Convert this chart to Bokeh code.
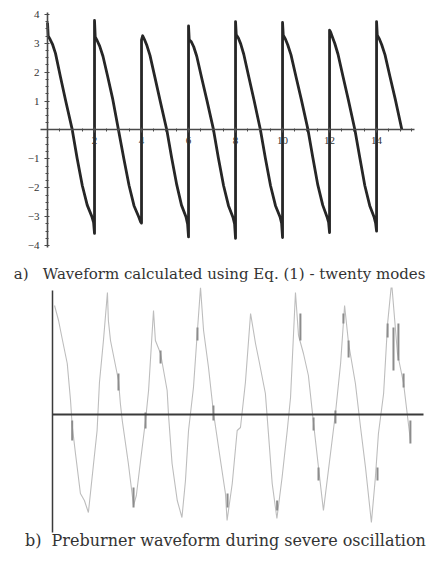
from bokeh.plotting import figure
from bokeh.models import Range1d, FixedTicker, Label
from bokeh.layouts import column
from bokeh.embed import file_html
from bokeh.resources import INLINE

# ---------------- data: a) waveform from Eq. (1), twenty modes ----------------
wave_x = [
    0.00, 0.03, 0.12, 0.22, 0.34, 0.55, 0.77, 1.05, 1.26, 1.48, 1.69, 1.88, 1.96, 2.00,
    2.00, 2.03, 2.12, 2.22, 2.36, 2.56, 2.78, 3.02, 3.25, 3.47, 3.68, 3.88, 3.96, 4.00,
    4.00, 4.05, 4.13, 4.23, 4.36, 4.57, 4.80, 5.08, 5.28, 5.50, 5.70, 5.89, 5.96, 6.00,
    6.00, 6.03, 6.12, 6.22, 6.35, 6.56, 6.79, 7.06, 7.27, 7.49, 7.70, 7.89, 7.96, 8.00,
    8.00, 8.03, 8.12, 8.22, 8.35, 8.56, 8.79, 9.06, 9.27, 9.49, 9.70, 9.89, 9.96, 10.00,
    10.00, 10.03, 10.12, 10.22, 10.36, 10.57, 10.80, 11.08, 11.29, 11.50, 11.71, 11.89, 11.96, 12.00,
    12.00, 12.04, 12.12, 12.22, 12.36, 12.57, 12.80, 13.08, 13.29, 13.50, 13.71, 13.89, 13.96, 14.00,
    14.00, 14.03, 14.12, 14.22, 14.36, 14.57, 14.80, 15.08,
]
wave_y = [
    3.72, 3.25, 3.12, 2.95, 2.65, 1.84, 1.02, 0.02, -0.98, -1.92, -2.60, -2.98, -3.20, -3.58,
    3.79, 3.22, 3.08, 2.90, 2.55, 1.85, 1.05, 0.00, -1.00, -1.92, -2.62, -3.00, -3.18, -3.22,
    3.12, 3.26, 3.12, 2.92, 2.58, 1.82, 0.98, -0.02, -0.95, -1.90, -2.60, -3.00, -3.25, -3.70,
    3.60, 3.12, 3.05, 2.88, 2.55, 1.80, 1.00, 0.02, -0.97, -1.92, -2.62, -3.02, -3.25, -3.75,
    3.75, 3.30, 3.18, 2.98, 2.62, 1.85, 1.02, 0.00, -0.98, -1.93, -2.62, -3.00, -3.22, -3.72,
    3.72, 3.28, 3.15, 2.95, 2.60, 1.85, 1.05, 0.02, -0.96, -1.90, -2.60, -3.00, -3.20, -3.55,
    3.45, 3.40, 3.22, 3.00, 2.62, 1.86, 1.04, 0.00, -0.97, -1.92, -2.62, -3.00, -3.22, -3.50,
    3.75, 3.28, 3.15, 2.95, 2.60, 1.85, 1.05, 0.00,
]
a_x_ticks = [2, 4, 6, 8, 10, 12, 14]
a_x_minor = [i * 0.5 for i in range(0, 32)]
a_y_ticks = [-4, -3, -2, -1, 1, 2, 3, 4]
a_y_minor = [i * 0.25 - 4 for i in range(0, 33)]

# ---------------- data: b) preburner waveform (measured trace) ----------------
pb_x = [0.09, 0.26, 0.43, 0.63, 0.77, 0.84, 0.98, 1.19, 1.36, 1.53, 1.75, 1.90, 2.00, 2.17,
        2.34, 2.38, 2.47, 2.81, 2.89, 2.97, 3.23, 3.45, 3.57, 3.75, 3.96, 4.09, 4.30, 4.38,
        4.60, 4.88, 4.94, 5.09, 5.31, 5.51, 5.66, 5.79, 6.00, 6.16, 6.30, 6.43, 6.64, 6.85,
        7.15, 7.36, 7.43, 7.65, 7.86, 8.00, 8.21, 8.43, 8.64, 8.77, 9.06, 9.19, 9.35, 9.55,
        9.77, 9.99, 10.13, 10.34, 10.47, 10.68, 10.89, 11.11, 11.32, 11.53, 11.83, 12.04,
        12.26, 12.43, 12.60, 12.89, 13.11, 13.32, 13.57, 13.74, 13.87, 14.09, 14.26, 14.43,
        14.68, 14.94, 15.23]
pb_y = [1.09, 0.94, 0.74, 0.51, 0.14, -0.11, -0.39, -0.79, -0.86, -0.98, -0.49, -0.16, 0.32, 0.74,
        1.22, 0.94, 0.74, 0.34, 0.11, -0.06, -0.49, -0.91, -0.81, -0.46, -0.06, 0.24, 1.04, 0.74,
        0.61, 0.24, -0.01, -0.49, -0.86, -1.03, -0.66, -0.16, 0.27, 0.81, 1.27, 0.84, 0.47, 0.02,
        -0.46, -0.79, -1.06, -0.69, -0.16, -0.13, 0.32, 1.01, 0.71, 0.56, 0.21, -0.19, -0.69, -1.04,
        -0.63, -0.16, 0.17, 1.22, 0.79, 0.61, 0.39, -0.09, -0.53, -0.96, -0.39, 0.01,
        0.51, 1.09, 0.71, 0.31, -0.13, -0.53, -1.08, -0.63, -0.19, 0.21, 0.91, 1.32,
        0.61, 0.31, -0.26]
# darker blotches of the scanned trace
pb_dark_x = [0.84, 2.81, 3.45, 3.96, 4.60, 6.17, 6.85, 7.45, 9.56, 10.55, 11.11, 11.32,
             12.04, 12.38, 12.60, 13.83, 14.26, 14.51, 14.72, 14.94, 15.23]
pb_dark_y0 = [-0.06, 0.41, -0.73, 0.02, 0.64, 0.87, 0.09, -0.79, -0.86, 1.01, -0.03, -0.53,
              0.04, 1.01, 0.74, -0.53, 0.91, 0.87, 0.91, 0.41, -0.06]
pb_dark_y1 = [-0.26, 0.24, -0.93, -0.14, 0.51, 0.74, -0.06, -0.93, -0.96, 0.74, -0.16, -0.66,
              -0.09, 0.91, 0.57, -0.66, 0.77, 0.44, 0.54, 0.27, -0.29]

caption_a = "a)\u00a0\u00a0 Waveform calculated using Eq. (1) - twenty modes"
caption_b = "b)\u00a0 Preburner waveform during severe oscillation"

SERIF = "DejaVu Serif"
TICKFONT = "Liberation Serif"
AXIS_COLOR = "#4a4a4a"

# ---------------- figure a ----------------
p1 = figure(width=428, height=287, x_range=Range1d(-2.0, 16.21), y_range=Range1d(-5.45, 4.48),
            output_backend="svg", toolbar_location=None, min_border=0)
p1.outline_line_color = None
p1.grid.visible = False
for ax in (p1.xaxis[0], p1.yaxis[0]):
    ax.fixed_location = 0
    ax.axis_line_color = AXIS_COLOR
    ax.axis_line_width = 1.6
    ax.major_tick_line_color = AXIS_COLOR
    ax.minor_tick_line_color = AXIS_COLOR
    ax.major_tick_in = 2
    ax.major_tick_out = 3
    ax.minor_tick_in = 1
    ax.minor_tick_out = 2
    ax.major_label_text_font = TICKFONT
    ax.major_label_text_font_size = "11px"
    ax.major_label_text_color = "#333333"
p1.xaxis.bounds = (-0.3, 15.6)
p1.yaxis.bounds = (-4.08, 4.08)
p1.xaxis.ticker = FixedTicker(ticks=a_x_ticks, minor_ticks=a_x_minor)
p1.yaxis.ticker = FixedTicker(ticks=a_y_ticks, minor_ticks=a_y_minor)
p1.xaxis.major_label_standoff = 4
p1.yaxis.major_label_standoff = 5

p1.line(wave_x, wave_y, line_color="#262626", line_width=2.8, line_join="round")

p1.add_layout(Label(x=7.32, y=-5.0, text=caption_a, text_align="center", text_baseline="middle",
                    text_font=SERIF, text_font_size="15px", text_color="#333333"))

# ---------------- figure b ----------------
p2 = figure(width=428, height=273, x_range=Range1d(-2.21, 16.0), y_range=Range1d(-1.46, 1.27),
            output_backend="svg", toolbar_location=None, min_border=0)
p2.outline_line_color = None
p2.grid.visible = False
for ax in (p2.xaxis[0], p2.yaxis[0]):
    ax.fixed_location = 0
    ax.axis_line_color = "#3a3a3a"
    ax.ticker = FixedTicker(ticks=[], minor_ticks=[])
    ax.major_tick_line_color = None
    ax.minor_tick_line_color = None
p2.xaxis.axis_line_width = 2
p2.yaxis.axis_line_width = 1.5
p2.xaxis.bounds = (0, 15.8)
p2.yaxis.bounds = (-1.18, 1.24)

p2.line(pb_x, pb_y, line_color="#bdbdbd", line_width=1.1)
p2.segment(x0=pb_dark_x, y0=pb_dark_y0, x1=pb_dark_x, y1=pb_dark_y1, line_color="#8c8c8c", line_width=2)

p2.add_layout(Label(x=7.36, y=-1.26, text=caption_b, text_align="center", text_baseline="middle",
                    text_font=SERIF, text_font_size="16px", text_color="#333333"))

layout = column(p1, p2, spacing=0)
open("out.html", "w").write(file_html(layout, INLINE))
